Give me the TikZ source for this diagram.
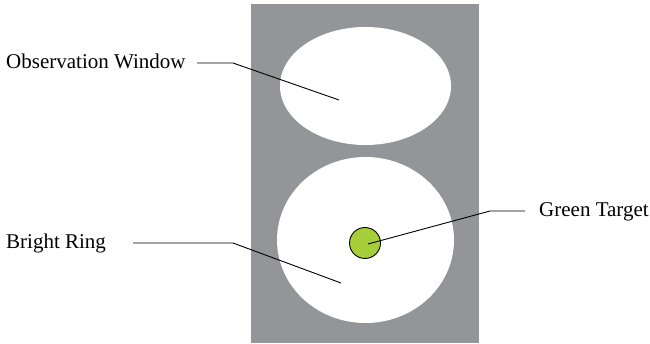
\documentclass[tikz,border=0pt]{standalone}
\usepackage{fontspec}
\setmainfont{Liberation Serif}
\usetikzlibrary{positioning,calc}
\definecolor{PanelGray}{HTML}{939598}
\definecolor{TargetGreen}{HTML}{A6CE39}

\begin{document}
\begin{tikzpicture}[x=1pt,y=-1pt,
    calltext/.style={anchor=base west,inner sep=0pt,font=\fontsize{21}{25}\selectfont},
    leader/.style={black,line width=0.9pt}]
  \useasboundingbox (0,0) rectangle (650,344);
  % panel with the two openings
  \fill[PanelGray] (251,4) rectangle (479,343);
  \fill[white] (365.5,86) ellipse [x radius=85.5,y radius=59];
  \fill[white] (365.5,240) ellipse [x radius=88.5,y radius=83];
  \node[circle,draw=black,line width=0.9pt,fill=TargetGreen,minimum size=31pt,inner sep=0pt] (target) at (365,243) {};
  % labels
  \node[calltext] (obs) at (6,69) {Observation Window};
  \node[calltext] (ring) at (6,249) {Bright Ring};
  \node[calltext] (green) at (539,217) {Green Target};
  \coordinate (obsTail) at (197,63);
  \coordinate (obsKnee) at (233,63);
  \coordinate (obsTip) at (339,100);
  \coordinate (ringTail) at (133,243);
  \coordinate (ringKnee) at (233,243);
  \coordinate (ringTip) at (341,283);
  \coordinate (greenTail) at (525,211);
  \coordinate (greenKnee) at (490,211);
  \draw[leader] (obsTail) -- (obsKnee) -- (obsTip);
  \draw[leader] (ringTail) -- (ringKnee) -- (ringTip);
  \draw[leader] (greenTail) -- (greenKnee) -- ($(target.center)+(3,1)$);
\end{tikzpicture}
\end{document}
